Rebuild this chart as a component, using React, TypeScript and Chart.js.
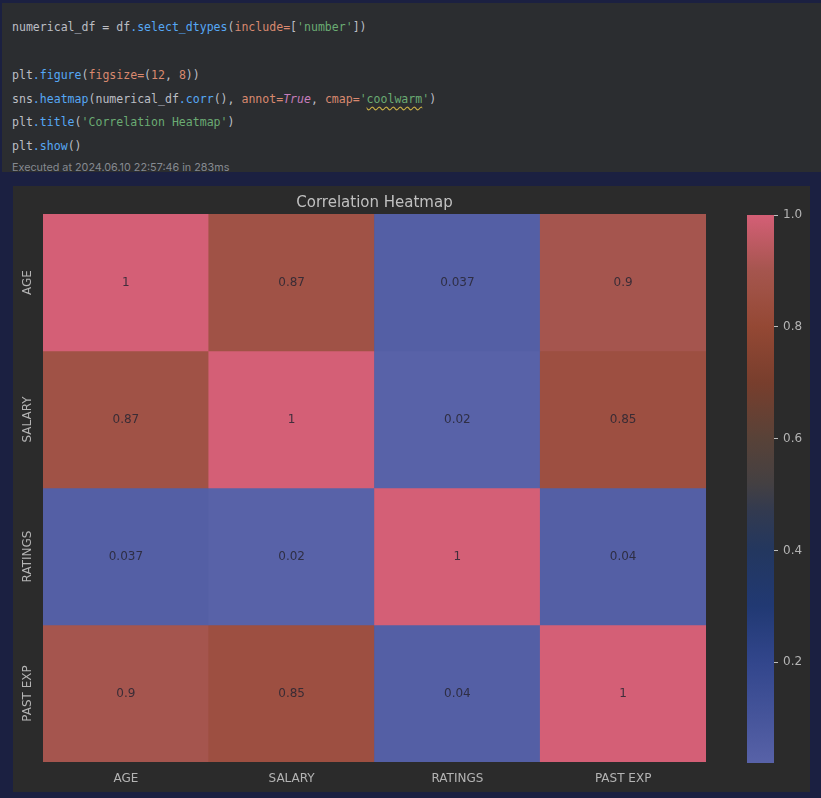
import React, { useEffect, useRef } from "react";
import { Chart, registerables } from "chart.js";

Chart.register(...registerables);

// ---- data ----
const VARIABLES = ["AGE", "SALARY", "RATINGS", "PAST EXP"];
const AGE_ROW = [1, 0.87, 0.037, 0.9];
const SALARY_ROW = [0.87, 1, 0.02, 0.85];
const RATINGS_ROW = [0.037, 0.02, 1, 0.04];
const PAST_EXP_ROW = [0.9, 0.85, 0.04, 1];
const CORR_ROWS = [AGE_ROW, SALARY_ROW, RATINGS_ROW, PAST_EXP_ROW];
const COLORBAR_TICKS = [0.2, 0.4, 0.6, 0.8, 1.0];
const VMIN = 0.02;
const VMAX = 1.0;
const TITLE = "Correlation Heatmap";

// colormap (value -> rgb) as seen in the rendered figure
const CMAP_VALUES = [0.02, 0.1, 0.2, 0.3, 0.4, 0.47, 0.52, 0.6, 0.7, 0.8, 0.87, 0.9, 1.0];
const CMAP_COLORS: number[][] = [
  [88, 98, 168],
  [70, 85, 155],
  [50, 70, 140],
  [33, 57, 115],
  [35, 55, 95],
  [50, 58, 80],
  [68, 64, 66],
  [88, 66, 56],
  [120, 62, 45],
  [148, 72, 52],
  [160, 82, 70],
  [165, 85, 78],
  [212, 95, 118],
];

function cmap(v: number): string {
  if (v <= CMAP_VALUES[0]) return `rgb(${CMAP_COLORS[0].join(",")})`;
  for (let i = 1; i < CMAP_VALUES.length; i++) {
    if (v <= CMAP_VALUES[i]) {
      const t = (v - CMAP_VALUES[i - 1]) / (CMAP_VALUES[i] - CMAP_VALUES[i - 1]);
      const a = CMAP_COLORS[i - 1];
      const b = CMAP_COLORS[i];
      const c = a.map((x, k) => Math.round(x + (b[k] - x) * t));
      return `rgb(${c.join(",")})`;
    }
  }
  return `rgb(${CMAP_COLORS[CMAP_COLORS.length - 1].join(",")})`;
}

const FONT = "'DejaVu Sans', sans-serif";
const LABEL_COLOR = "#b4b4b4";
const TITLE_COLOR = "#c0c0c0";

// ---- code cell text ----
const C = {
  def: "#bcbec4",
  fn: "#56a8f5",
  arg: "#d9896f",
  str: "#6aab73",
  kw: "#c77dbb",
};
type Tok = [string, string, string?];
const CODE_LINES: { top: number; toks: Tok[] }[] = [
  {
    top: 15,
    toks: [
      ["numerical_df = df", C.def],
      [".select_dtypes", C.fn],
      ["(", C.def],
      ["include=", C.arg],
      ["[", C.def],
      ["'number'", C.str],
      ["])", C.def],
    ],
  },
  {
    top: 63,
    toks: [
      ["plt", C.def],
      [".figure", C.fn],
      ["(", C.def],
      ["figsize=", C.arg],
      ["(", C.def],
      ["12", C.arg],
      [", ", C.def],
      ["8", C.arg],
      ["))", C.def],
    ],
  },
  {
    top: 87,
    toks: [
      ["sns", C.def],
      [".heatmap", C.fn],
      ["(numerical_df", C.def],
      [".corr", C.fn],
      ["(), ", C.def],
      ["annot=", C.arg],
      ["True", C.kw, "italic"],
      [", ", C.def],
      ["cmap=", C.arg],
      ["'", C.str],
      ["coolwarm", C.str, "wavy"],
      ["'", C.str],
      [")", C.def],
    ],
  },
  {
    top: 110,
    toks: [
      ["plt", C.def],
      [".title", C.fn],
      ["(", C.def],
      ["'Correlation Heatmap'", C.str],
      [")", C.def],
    ],
  },
  {
    top: 134,
    toks: [
      ["plt", C.def],
      [".show", C.fn],
      ["()", C.def],
    ],
  },
];

function HeatmapChart() {
  const ref = useRef<HTMLCanvasElement>(null);
  useEffect(() => {
    const n = VARIABLES.length;
    const annotPlugin = {
      id: "annot",
      afterDatasetsDraw(chart: any) {
        const { ctx, scales } = chart;
        const xs = scales.x;
        const ys = scales.y;
        ctx.save();
        ctx.font = `12px ${FONT}`;
        ctx.textAlign = "center";
        ctx.textBaseline = "middle";
        ctx.fillStyle = "rgba(40,38,50,0.85)";
        CORR_ROWS.forEach((row, i) => {
          row.forEach((v, j) => {
            const x = xs.getPixelForValue(j);
            const y = ys.getPixelForValue(n - i - 0.5);
            ctx.fillText(String(v), x, y);
          });
        });
        ctx.restore();
      },
      afterDraw(chart: any) {
        const { ctx, scales, chartArea } = chart;
        const ys = scales.y;
        ctx.save();
        ctx.font = `12px ${FONT}`;
        ctx.fillStyle = LABEL_COLOR;
        ctx.textAlign = "center";
        ctx.textBaseline = "middle";
        VARIABLES.forEach((lab, i) => {
          const y = ys.getPixelForValue(n - i - 0.5);
          ctx.save();
          ctx.translate(chartArea.left - 15, y);
          ctx.rotate(-Math.PI / 2);
          ctx.fillText(lab, 0, 0);
          ctx.restore();
        });
        ctx.restore();
      },
    };
    const chart = new Chart(ref.current!, {
      type: "bar",
      data: {
        labels: VARIABLES,
        datasets: CORR_ROWS.map((row, i) => ({
          label: VARIABLES[i],
          data: VARIABLES.map(() => [n - i - 1, n - i]),
          backgroundColor: row.map((v) => cmap(v)),
          borderWidth: 0,
          grouped: false,
          barPercentage: 1,
          categoryPercentage: 1,
        })) as any,
      },
      options: {
        animation: false,
        responsive: false,
        maintainAspectRatio: false,
        layout: { padding: { left: 30, right: 30, top: 0, bottom: 0 } },
        plugins: {
          legend: { display: false },
          tooltip: { enabled: false },
          title: {
            display: true,
            text: TITLE,
            color: TITLE_COLOR,
            font: { family: FONT, size: 15, weight: "normal" },
            padding: { top: 8, bottom: 2 },
          },
        },
        scales: {
          x: {
            type: "category",
            grid: { display: false },
            border: { display: false },
            ticks: { color: LABEL_COLOR, font: { family: FONT, size: 12 }, padding: 2 },
            afterFit: (s: any) => {
              s.height = 30;
            },
          },
          y: {
            type: "linear",
            min: 0,
            max: n,
            grid: { display: false },
            border: { display: false },
            ticks: { display: false },
            afterFit: (s: any) => {
              s.width = 0;
            },
          },
        },
      } as any,
      plugins: [annotPlugin],
    });
    return () => chart.destroy();
  }, []);
  return <canvas ref={ref} width={723} height={606} style={{ position: "absolute", left: 13, top: 186, width: 723, height: 606 }} />;
}

function ColorbarChart() {
  const ref = useRef<HTMLCanvasElement>(null);
  useEffect(() => {
    const chart = new Chart(ref.current!, {
      type: "bar",
      data: {
        labels: [""],
        datasets: [
          {
            data: [[VMIN, VMAX]] as any,
            backgroundColor: (c: any) => {
              const ch = c.chart;
              if (!ch.chartArea) return "#888";
              const y = ch.scales.y;
              const g = ch.ctx.createLinearGradient(0, y.getPixelForValue(VMIN), 0, y.getPixelForValue(VMAX));
              CMAP_VALUES.forEach((v, k) => {
                g.addColorStop((v - VMIN) / (VMAX - VMIN), `rgb(${CMAP_COLORS[k].join(",")})`);
              });
              return g;
            },
            borderWidth: 0,
            barPercentage: 1,
            categoryPercentage: 1,
          },
        ],
      },
      options: {
        animation: false,
        responsive: false,
        maintainAspectRatio: false,
        layout: { padding: { left: 11, right: 0, top: 28, bottom: 30 } },
        plugins: { legend: { display: false }, tooltip: { enabled: false } },
        scales: {
          x: { display: false },
          y: {
            type: "linear",
            position: "right",
            min: VMIN,
            max: VMAX,
            border: { display: false },
            grid: { display: true, drawOnChartArea: false, drawTicks: true, tickLength: 4, color: "#bdbdbd", lineWidth: 1 },
            ticks: {
              color: LABEL_COLOR,
              font: { family: FONT, size: 12 },
              padding: 5,
              callback: (v: any) => Number(v).toFixed(1),
            },
            afterBuildTicks: (s: any) => {
              s.ticks = COLORBAR_TICKS.map((v) => ({ value: v }));
            },
            afterFit: (s: any) => {
              s.width = 36;
            },
          },
        },
      } as any,
    });
    return () => chart.destroy();
  }, []);
  return <canvas ref={ref} width={74} height={606} style={{ position: "absolute", left: 736, top: 187, width: 74, height: 606 }} />;
}

export default function App() {
  return (
    <div style={{ position: "absolute", left: 0, top: 0, width: 821, height: 798, background: "#1b2041", overflow: "hidden" }}>
      <div style={{ position: "absolute", left: 2, top: 3, width: 819, height: 169, background: "#2b2d30" }} />
      {CODE_LINES.map((line, li) => (
        <div
          key={li}
          style={{
            position: "absolute",
            left: 12,
            top: line.top,
            height: 24,
            lineHeight: "24px",
            fontFamily: "'DejaVu Sans Mono', monospace",
            fontSize: 11.55,
            whiteSpace: "pre",
          }}
        >
          {line.toks.map(([t, col, extra], k) => (
            <span
              key={k}
              style={{
                color: col,
                fontStyle: extra === "italic" ? "italic" : "normal",
                textDecoration: extra === "wavy" ? "underline wavy #c9ae45" : "none",
                textUnderlineOffset: 3,
              }}
            >
              {t}
            </span>
          ))}
        </div>
      ))}
      <div
        style={{
          position: "absolute",
          left: 12,
          top: 160,
          height: 16,
          lineHeight: "16px",
          fontFamily: "Inter, sans-serif",
          fontSize: 10.8,
          color: "#868a91",
          whiteSpace: "pre",
        }}
      >
        Executed at 2024.06.10 22:57:46 in 283ms
      </div>
      <div style={{ position: "absolute", left: 13, top: 186, width: 797, height: 606, background: "#2b2b2b" }} />
      <HeatmapChart />
      <ColorbarChart />
    </div>
  );
}
